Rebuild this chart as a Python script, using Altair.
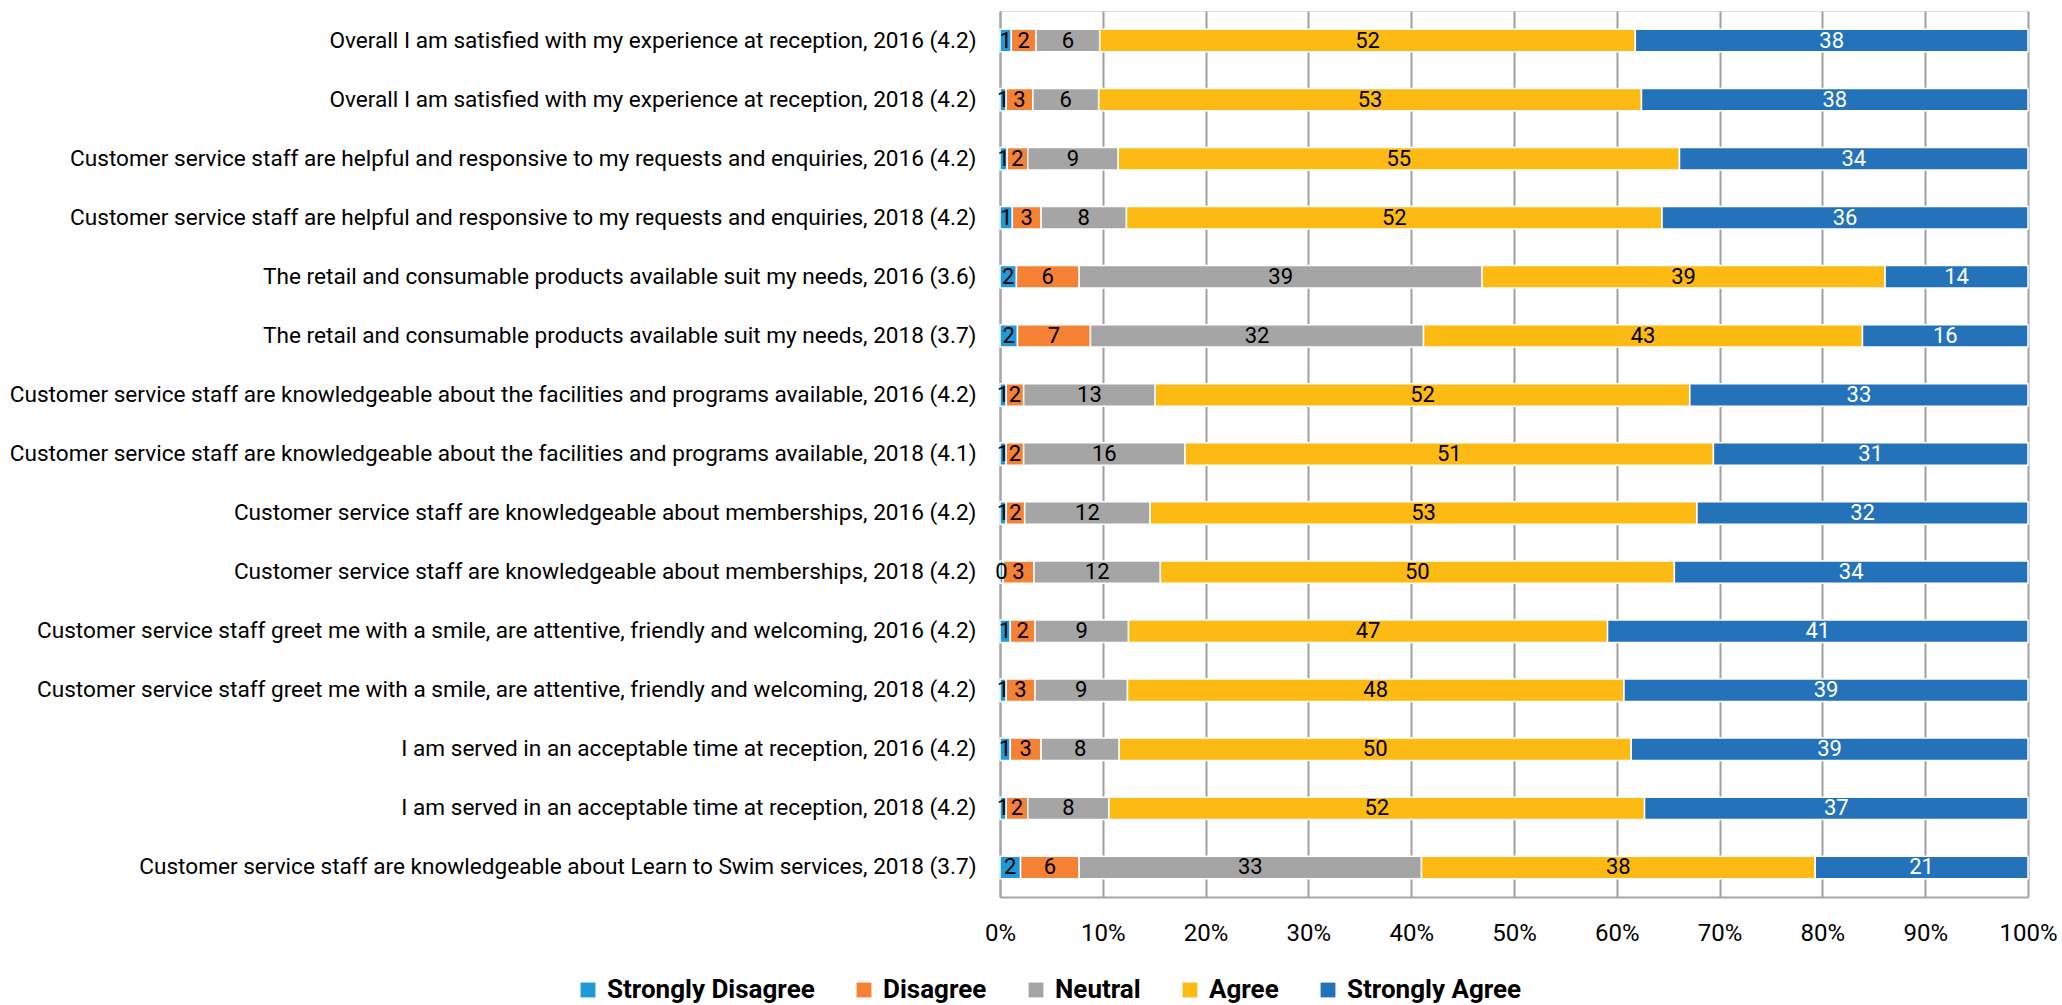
import altair as alt
import pandas as pd

categories = [
    "Overall I am satisfied with my experience at reception, 2016 (4.2)",
    "Overall I am satisfied with my experience at reception, 2018 (4.2)",
    "Customer service staff are helpful and responsive to my requests and enquiries, 2016 (4.2)",
    "Customer service staff are helpful and responsive to my requests and enquiries,  2018 (4.2)",
    "The retail and consumable products available suit my needs, 2016 (3.6)",
    "The retail and consumable products available suit my needs, 2018 (3.7)",
    "Customer service staff are knowledgeable about the facilities and programs available, 2016 (4.2)",
    "Customer service staff are knowledgeable about the facilities and programs available, 2018 (4.1)",
    "Customer service staff are knowledgeable about memberships, 2016 (4.2)",
    "Customer service staff are knowledgeable about memberships, 2018 (4.2)",
    "Customer service staff greet me with a smile, are attentive, friendly and welcoming, 2016 (4.2)",
    "Customer service staff greet me with a smile, are attentive, friendly and welcoming, 2018 (4.2)",
    "I am served in an acceptable time at reception, 2016 (4.2)",
    "I am served in an acceptable time at reception, 2018 (4.2)",
    "Customer service staff are knowledgeable about Learn to Swim services, 2018 (3.7)",
]

series = ["Strongly Disagree", "Disagree", "Neutral", "Agree", "Strongly Agree"]
colors = ["#1F9AD6", "#F58135", "#A5A5A5", "#FDBA12", "#2372BA"]
text_colors = ["black", "black", "black", "black", "white"]

strongly_disagree = [1.1, 0.6, 0.7, 1.2, 1.6, 1.7, 0.6, 0.6, 0.6, 0.3, 1.0, 0.6, 1.0, 0.6, 2.0]
disagree = [2.4, 2.6, 2.0, 2.8, 6.1, 7.1, 1.7, 1.7, 1.8, 3.0, 2.4, 2.8, 3.0, 2.1, 5.7]
neutral = [6.2, 6.4, 8.8, 8.3, 39.2, 32.4, 12.8, 15.7, 12.2, 12.3, 9.1, 9.0, 7.6, 7.9, 33.3]
agree = [52.1, 52.8, 54.6, 52.1, 39.2, 42.7, 52.0, 51.4, 53.2, 50.0, 46.6, 48.3, 49.8, 52.1, 38.3]
strongly_agree = [38.2, 37.6, 33.9, 35.6, 13.9, 16.1, 32.9, 30.6, 32.2, 34.4, 40.9, 39.3, 38.6, 37.3, 20.7]

x_ticks = [0, 0.1, 0.2, 0.3, 0.4, 0.5, 0.6, 0.7, 0.8, 0.9, 1.0]

all_values = [strongly_disagree, disagree, neutral, agree, strongly_agree]
rows = []
for si, s in enumerate(series):
    for ci, c in enumerate(categories):
        rows.append({"category": c, "series": s, "order": si, "value": all_values[si][ci],
                     "tcolor": text_colors[si]})
df = pd.DataFrame(rows)

FONT = "Roboto"

base = alt.Chart(df).transform_stack(
    stack="value", groupby=["category"], as_=["v0", "v1"], sort=[alt.SortField("order")],
    offset="normalize"
).transform_calculate(
    mid="(datum.v0 + datum.v1) / 2",
    label="format(datum.value, '.0f')"
)

y_enc = alt.Y("category:N", sort=categories, title=None,
              scale=alt.Scale(paddingInner=0.62, paddingOuter=0.31),
              axis=alt.Axis(labelLimit=0, labelFontSize=22.6, labelFont=FONT, labelColor="#000000",
                            labelPadding=24, ticks=False, domain=True, domainColor="#A6A6A6",
                            domainWidth=2, grid=False))

bars = base.mark_bar(stroke="white", strokeWidth=1.5).encode(
    x=alt.X("v0:Q", scale=alt.Scale(domain=[0, 1], nice=False), title=None,
            axis=alt.Axis(values=x_ticks, format=".0%", labelFontSize=24, labelFont=FONT,
                          labelColor="#000000", labelPadding=24, ticks=False, labelFlush=False,
                          grid=True, gridColor="#A0A0A0", gridWidth=2,
                          domain=True, domainColor="#A6A6A6", domainWidth=2)),
    x2="v1:Q",
    y=y_enc,
    color=alt.Color("series:N", sort=series,
                    scale=alt.Scale(domain=series, range=colors),
                    legend=alt.Legend(title=None, orient="none", direction="horizontal",
                                      legendX=-425, legendY=966, labelFontSize=26,
                                      labelFont=FONT, labelFontWeight="bold", labelLimit=0,
                                      labelColor="#000000", symbolType="square",
                                      symbolSize=220, symbolStrokeWidth=0,
                                      columnPadding=36, labelOffset=6)),
)

texts = base.mark_text(fontSize=22, font=FONT).encode(
    x=alt.X("mid:Q"),
    y=alt.Y("category:N", sort=categories),
    text="label:N",
    color=alt.Color("tcolor:N", scale=None),
)

chart = alt.layer(bars, texts).properties(
    width=1028, height=886,
    autosize=alt.AutoSizeParams(type="none"),
    padding={"left": 1000, "top": 11, "right": 34, "bottom": 108},
).configure_view(stroke=None).configure(background="white")

chart.save("out.html", embed_options={"renderer": "svg", "actions": False})
